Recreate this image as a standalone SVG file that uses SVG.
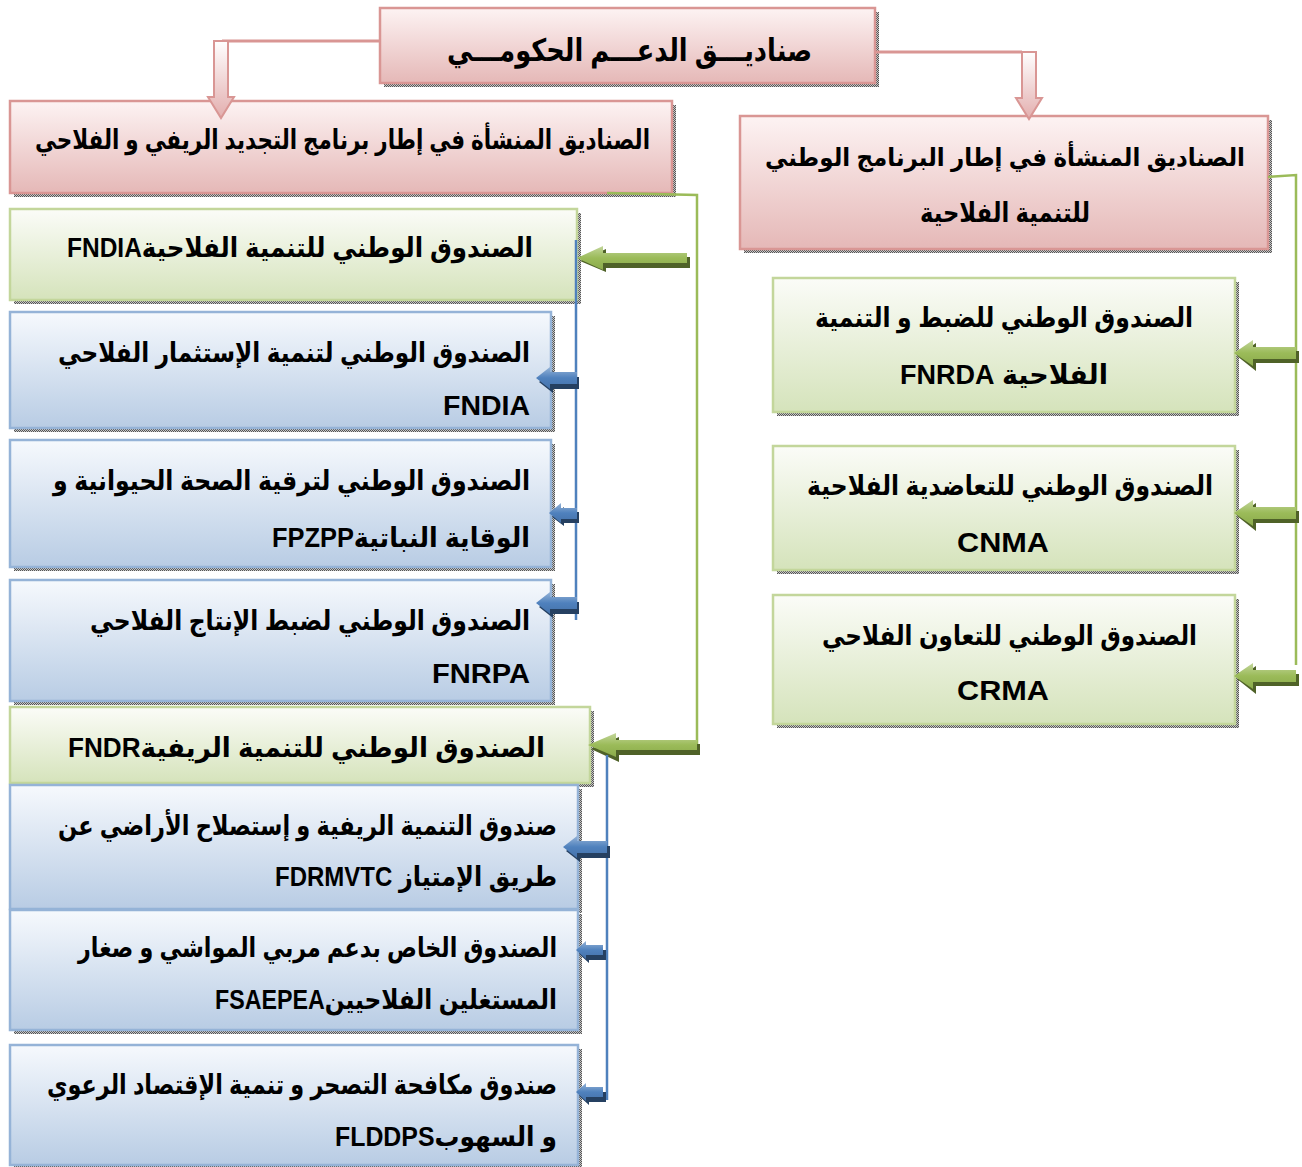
<svg xmlns="http://www.w3.org/2000/svg" width="1302" height="1167" viewBox="0 0 1302 1167">
<defs>
<linearGradient id="gPink" x1="0" y1="0" x2="0" y2="1"><stop offset="0" stop-color="#fdf3f3"/><stop offset="1" stop-color="#e5b8b7"/></linearGradient>
<linearGradient id="gGreen" x1="0" y1="0" x2="0" y2="1"><stop offset="0" stop-color="#fbfcf8"/><stop offset="1" stop-color="#d5e3bb"/></linearGradient>
<linearGradient id="gBlue" x1="0" y1="0" x2="0" y2="1"><stop offset="0" stop-color="#f6f9fd"/><stop offset="1" stop-color="#b8cce4"/></linearGradient>
<linearGradient id="aGreen" x1="0" y1="0" x2="0" y2="1"><stop offset="0" stop-color="#c3d69b"/><stop offset="0.5" stop-color="#9bbb59"/><stop offset="1" stop-color="#8aaa4a"/></linearGradient>
<linearGradient id="aBlue" x1="0" y1="0" x2="0" y2="1"><stop offset="0" stop-color="#95b3d7"/><stop offset="0.5" stop-color="#4f81bd"/><stop offset="1" stop-color="#4572aa"/></linearGradient>
<linearGradient id="aPink" x1="0" y1="0" x2="0" y2="1"><stop offset="0" stop-color="#ffffff"/><stop offset="1" stop-color="#e3aeae"/></linearGradient>
<pattern id="dots" width="2" height="2" patternUnits="userSpaceOnUse"><rect width="2" height="2" fill="#c8c8c8"/><rect width="1" height="1" fill="#555"/><rect x="1" y="1" width="1" height="1" fill="#555"/></pattern>
</defs>
<style>
.sh{fill:url(#dots)}
.pink{fill:url(#gPink);stroke:#d99694;stroke-width:2.5}
.green{fill:url(#gGreen);stroke:#c3d69b;stroke-width:2.5}
.blue{fill:url(#gBlue);stroke:#95b3d7;stroke-width:2.5}
text{font-family:"Liberation Sans","DejaVu Sans",sans-serif;font-weight:bold;font-size:27px;fill:#000;direction:rtl;text-anchor:middle}
.lp{fill:none;stroke:#d99694;stroke-width:3}
.lg{fill:none;stroke:#9bbb59;stroke-width:2.5}
.lb{fill:none;stroke:#4f81bd;stroke-width:2.5}
.ag{fill:url(#aGreen)}
.ags{fill:#4f6228}
.ab{fill:url(#aBlue)}
.abs{fill:#254061}
.ap{fill:url(#aPink);stroke:#d99694;stroke-width:2}
</style>

<g id="n-top">
<rect class="sh" x="384" y="12" width="495" height="75"/>
<rect class="pink" x="380" y="8" width="495" height="75"/>
<text x="629.5" y="61" style="font-size:31px" textLength="365" lengthAdjust="spacingAndGlyphs">صناديـــق الدعـــم الحكومـــي</text>
</g>

<g id="n-left-prog">
<rect class="sh" x="14" y="105" width="662" height="92"/>
<rect class="pink" x="10" y="101" width="662" height="92"/>
<text x="342.5" y="149" textLength="615" lengthAdjust="spacingAndGlyphs">الصناديق المنشأة في إطار برنامج التجديد الريفي و الفلاحي</text>
</g>

<g id="n-right-prog">
<rect class="sh" x="744" y="120" width="528" height="133"/>
<rect class="pink" x="740" y="116" width="528" height="133"/>
<text x="1005" y="166" style="font-size:25px" textLength="480" lengthAdjust="spacingAndGlyphs">الصناديق المنشأة في إطار البرنامج الوطني</text>
<text x="1005" y="222" textLength="170" lengthAdjust="spacingAndGlyphs">للتنمية الفلاحية</text>
</g>

<g id="n-fnrda">
<rect class="sh" x="777" y="282" width="462" height="134"/>
<rect class="green" x="773" y="278" width="462" height="134"/>
<text x="1004" y="327" textLength="378" lengthAdjust="spacingAndGlyphs">الصندوق الوطني للضبط و التنمية</text>
<text x="1004" y="384" textLength="208" lengthAdjust="spacingAndGlyphs">الفلاحية FNRDA</text>
</g>

<g id="n-cnma">
<rect class="sh" x="777" y="450" width="462" height="124"/>
<rect class="green" x="773" y="446" width="462" height="124"/>
<text x="1010" y="495" textLength="406" lengthAdjust="spacingAndGlyphs">الصندوق الوطني للتعاضدية الفلاحية</text>
<text x="1003" y="552" textLength="92" lengthAdjust="spacingAndGlyphs">CNMA</text>
</g>

<g id="n-crma">
<rect class="sh" x="777" y="599" width="462" height="129"/>
<rect class="green" x="773" y="595" width="462" height="129"/>
<text x="1009.5" y="645" textLength="375" lengthAdjust="spacingAndGlyphs">الصندوق الوطني للتعاون الفلاحي</text>
<text x="1003" y="700" textLength="92" lengthAdjust="spacingAndGlyphs">CRMA</text>
</g>

<g id="n-fndia-green">
<rect class="sh" x="14" y="213" width="567" height="91"/>
<rect class="green" x="10" y="209" width="567" height="91"/>
<text x="300" y="257" textLength="466" lengthAdjust="spacingAndGlyphs">الصندوق الوطني للتنمية الفلاحيةFNDIA</text>
</g>

<g id="n-fndia">
<rect class="sh" x="14" y="316" width="541" height="116"/>
<rect class="blue" x="10" y="312" width="541" height="116"/>
<text x="294" y="362" textLength="472" lengthAdjust="spacingAndGlyphs">الصندوق الوطني لتنمية الإستثمار الفلاحي</text>
<text x="486.5" y="415" textLength="87" lengthAdjust="spacingAndGlyphs">FNDIA</text>
</g>

<g id="n-fpzpp">
<rect class="sh" x="14" y="444" width="541" height="127"/>
<rect class="blue" x="10" y="440" width="541" height="127"/>
<text x="291.5" y="490" textLength="477" lengthAdjust="spacingAndGlyphs">الصندوق الوطني لترقية الصحة الحيوانية و</text>
<text x="401" y="547" textLength="258" lengthAdjust="spacingAndGlyphs">الوقاية النباتيةFPZPP</text>
</g>

<g id="n-fnrpa">
<rect class="sh" x="14" y="584" width="541" height="121"/>
<rect class="blue" x="10" y="580" width="541" height="121"/>
<text x="310" y="630" textLength="440" lengthAdjust="spacingAndGlyphs">الصندوق الوطني لضبط الإنتاج الفلاحي</text>
<text x="481" y="683" textLength="98" lengthAdjust="spacingAndGlyphs">FNRPA</text>
</g>

<g id="n-fndr">
<rect class="sh" x="14" y="711" width="580" height="76"/>
<rect class="green" x="10" y="707" width="580" height="76"/>
<text x="306.5" y="757" textLength="477" lengthAdjust="spacingAndGlyphs">الصندوق الوطني للتنمية الريفيةFNDR</text>
</g>

<g id="n-fdrmvtc">
<rect class="sh" x="14" y="789" width="568" height="124"/>
<rect class="blue" x="10" y="785" width="568" height="124"/>
<text x="307.5" y="835" textLength="499" lengthAdjust="spacingAndGlyphs">صندوق التنمية الريفية و إستصلاح الأراضي عن</text>
<text x="416" y="886" textLength="282" lengthAdjust="spacingAndGlyphs">طريق الإمتياز FDRMVTC</text>
</g>

<g id="n-fsaepea">
<rect class="sh" x="14" y="914" width="568" height="120"/>
<rect class="blue" x="10" y="910" width="568" height="120"/>
<text x="317.5" y="957" textLength="479" lengthAdjust="spacingAndGlyphs">الصندوق الخاص بدعم مربي المواشي و صغار</text>
<text x="386" y="1009" textLength="342" lengthAdjust="spacingAndGlyphs">المستغلين الفلاحيينFSAEPEA</text>
</g>

<g id="n-flddps">
<rect class="sh" x="14" y="1049" width="568" height="118"/>
<rect class="blue" x="10" y="1045" width="568" height="120"/>
<text x="302" y="1094" textLength="510" lengthAdjust="spacingAndGlyphs">صندوق مكافحة التصحر و تنمية الإقتصاد الرعوي</text>
<text x="446" y="1146" textLength="222" lengthAdjust="spacingAndGlyphs">و السهوبFLDDPS</text>
</g>

<g id="connectors">
<polyline class="lp" points="380,41 222,41"/>
<polyline class="lp" points="875,52 1022,52"/>
<path class="ap" d="M214,41 H228 V97 H234 L221,118 L208,97 H214 Z"/>
<path class="ap" d="M1022,52 H1036 V98 H1042 L1029,119 L1016,98 H1022 Z"/>
<polyline class="lg" points="1268,177 1296,175 1296,665"/>
<path class="ags" d="M1237,356 L1256,343 L1256,351 L1299,351 L1299,363 L1256,363 L1256,371 Z"/>
<path class="ag" d="M1234,353 L1253,340 L1253,347 L1296,347 L1296,359 L1253,359 L1253,366 Z"/>
<path class="ags" d="M1237,516 L1256,503 L1256,511 L1299,511 L1299,523 L1256,523 L1256,531 Z"/>
<path class="ag" d="M1234,513 L1253,500 L1253,507 L1296,507 L1296,519 L1253,519 L1253,526 Z"/>
<path class="ags" d="M1237,679 L1256,666 L1256,674 L1299,674 L1299,686 L1256,686 L1256,694 Z"/>
<path class="ag" d="M1234,676 L1253,663 L1253,670 L1296,670 L1296,682 L1253,682 L1253,689 Z"/>
<polyline class="lg" points="607,193 697,195 697,745"/>
<path class="ags" d="M580,261 L606,249 L606,257 L690,257 L690,268 L606,268 L606,272 Z"/>
<path class="ag" d="M577,258 L603,246 L603,253 L687,253 L687,263 L603,263 L603,270 Z"/>
<path class="ags" d="M591,749 L619,737 L619,744 L700,744 L700,755 L619,755 L619,762 Z"/>
<path class="ag" d="M588,745 L616,733 L616,740 L697,740 L697,750 L616,750 L616,757 Z"/>
<polyline class="lb" points="576,240 576,620"/>
<path class="abs" d="M539,382 L553,371 L553,377 L579,377 L579,389 L553,389 L553,393 Z"/>
<path class="ab" d="M536,378 L550,367 L550,372 L577,372 L577,384 L550,384 L550,389 Z"/>
<path class="abs" d="M552,517 L564,507 L564,512 L579,512 L579,523 L564,523 L564,526 Z"/>
<path class="ab" d="M549,513 L561,503 L561,508 L577,508 L577,519 L561,519 L561,523 Z"/>
<path class="abs" d="M539,607 L553,596 L553,602 L579,602 L579,614 L553,614 L553,618 Z"/>
<path class="ab" d="M536,603 L550,592 L550,597 L577,597 L577,609 L550,609 L550,614 Z"/>
<polyline class="lb" points="607,755 607,1100"/>
<path class="abs" d="M566,851 L580,840 L580,846 L610,846 L610,858 L580,858 L580,862 Z"/>
<path class="ab" d="M563,847 L577,836 L577,841 L607,841 L607,853 L577,853 L577,858 Z"/>
<path class="abs" d="M579,954 L589,945 L589,950 L606,950 L606,960 L589,960 L589,963 Z"/>
<path class="ab" d="M576,950 L586,941 L586,945 L603,945 L603,955 L586,955 L586,959 Z"/>
<path class="abs" d="M579,1096 L589,1087 L589,1092 L606,1092 L606,1102 L589,1102 L589,1105 Z"/>
<path class="ab" d="M576,1092 L586,1083 L586,1087 L603,1087 L603,1097 L586,1097 L586,1101 Z"/>
</g>
</svg>
